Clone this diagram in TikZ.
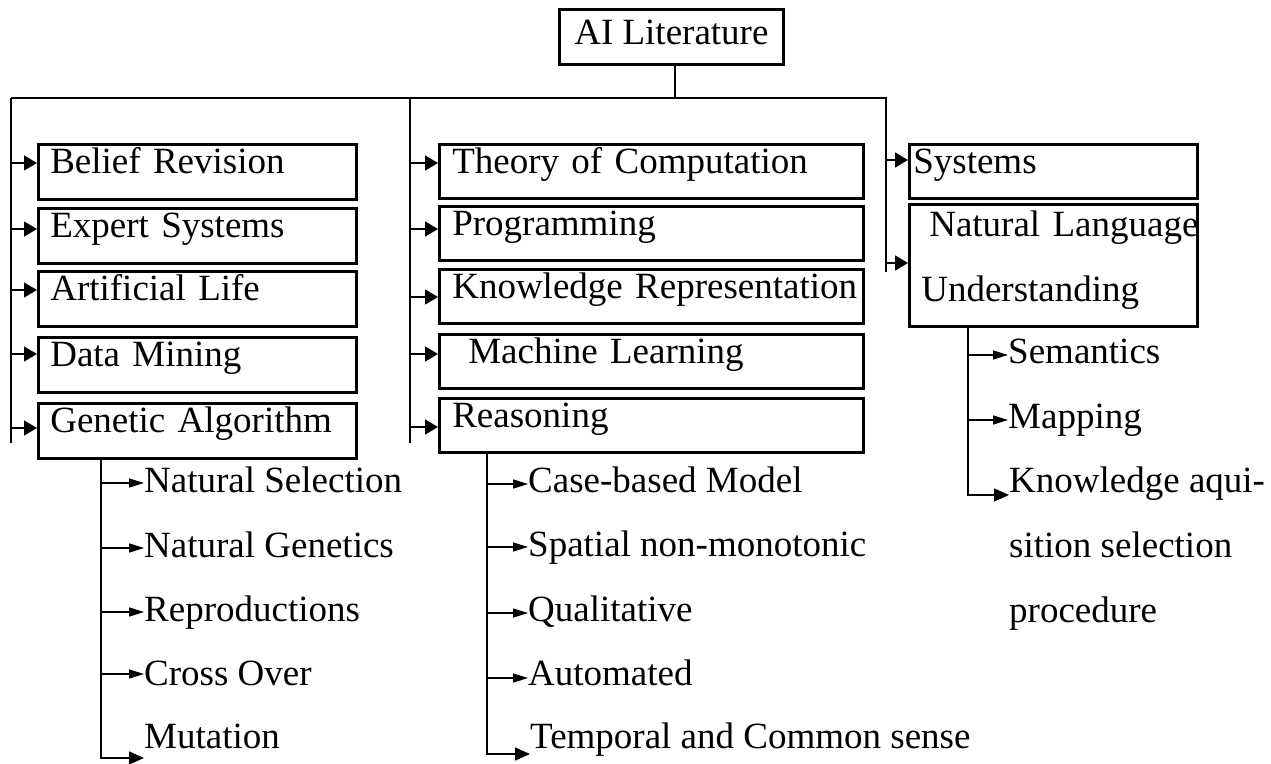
\documentclass[tikz,border=0pt]{standalone}
\usepackage{fontspec}
\setmainfont{Liberation Serif}
\usetikzlibrary{arrows.meta}
\tikzset{
  conn/.style={line width=1.4pt},
  arr/.style={conn,-{Triangle[length=13pt,width=15pt]}},
  subarr/.style={conn,-{Triangle[length=15pt,width=9pt]}},
  lastarr/.style={conn,-{Triangle[length=15pt,width=13pt]}},
  bx/.style={draw, line width=2.6pt, anchor=north west, inner xsep=12pt, inner ysep=0pt,
             text height=29pt, text depth=26pt, align=left},
  lbox/.style={bx, text width=294pt},
  mbox/.style={bx, inner xsep=13pt, text width=398pt, text depth=25pt},
  rbox/.style={bx, inner xsep=4pt, text width=280pt, text depth=25pt},
  item/.style={anchor=base west, inner sep=0pt},
}
\begin{document}
\begin{tikzpicture}[x=1pt,y=-1pt, every node/.style={font=\fontsize{37pt}{44pt}\selectfont}]
\useasboundingbox (0,0) rectangle (1271,763);

% root
\node[bx, anchor=north west, inner xsep=15pt, text height=35pt, text depth=20pt, align=center] (ai) at (558,8) {AI Literature};
\coordinate (hub) at (675,98);
\coordinate (busL) at (11,98);
\coordinate (busM) at (410,98);
\coordinate (busR) at (887,98);
\coordinate (busLend) at (11,443);
\coordinate (busMend) at (410,443);
\coordinate (busRend) at (886,272);

\draw[conn] (ai.south -| hub) -- (hub);
\draw[conn] (busL) -- (busR);
\draw[conn] (busL) -- (busLend);
\draw[conn] (busM) -- (busMend);
\draw[conn] ([xshift=-1pt]busR) -- (busRend);

% left column
\node[lbox] (belief) at (37,143) {Belief Revision};
\node[lbox] (expert) at (37,207) {Expert Systems};
\node[lbox] (artlife) at (37,270) {Artificial Life};
\node[lbox] (datam) at (37,336) {Data Mining};
\node[lbox] (genetic) at (37,402) {Genetic Algorithm};

\draw[arr] ([yshift=-20pt]belief.north west -| busL) -- ([yshift=-20pt]belief.north west);
\draw[arr] ([yshift=-22pt]expert.north west -| busL) -- ([yshift=-22pt]expert.north west);
\draw[arr] ([yshift=-20pt]artlife.north west -| busL) -- ([yshift=-20pt]artlife.north west);
\draw[arr] ([yshift=-18pt]datam.north west -| busL) -- ([yshift=-18pt]datam.north west);
\draw[arr] ([yshift=-26pt]genetic.north west -| busL) -- ([yshift=-26pt]genetic.north west);

% middle column
\node[mbox] (theory) at (438,143) {Theory of Computation};
\node[mbox] (prog) at (438,205) {Programming};
\node[mbox] (krep) at (438,268) {\mbox{Knowledge Representation}};
\node[mbox] (ml) at (438,333) {\hspace*{16pt}Machine Learning};
\node[mbox] (reason) at (438,397) {Reasoning};

\draw[arr] ([yshift=-20pt]theory.north west -| busM) -- ([yshift=-20pt]theory.north west);
\draw[arr] ([yshift=-24pt]prog.north west -| busM) -- ([yshift=-24pt]prog.north west);
\draw[arr] ([yshift=-29pt]krep.north west -| busM) -- ([yshift=-29pt]krep.north west);
\draw[arr] ([yshift=-21pt]ml.north west -| busM) -- ([yshift=-21pt]ml.north west);
\draw[arr] ([yshift=-30pt]reason.north west -| busM) -- ([yshift=-30pt]reason.north west);

% right column
\node[rbox] (systems) at (908,143) {Systems};
\node[rbox, inner xsep=12pt, text width=264pt, text height=32pt, text depth=90pt] (nlu) at (908,203)
  {\begin{tabular}[t]{@{}l@{}}\hspace*{8pt}Natural Language\\[21pt]Understanding\end{tabular}};

\draw[arr] ([yshift=-17pt]systems.north west -| busR) -- ([yshift=-17pt]systems.north west);
\draw[arr] ([yshift=-60pt]nlu.north west -| busR) -- ([yshift=-60pt]nlu.north west);

% genetic algorithm sub-items
\coordinate (gbus) at (101,457);
\node[item] (ns) at (144,492) {Natural Selection};
\node[item] (ng) at (144,557) {Natural Genetics};
\node[item] (rep) at (144,621) {Reproductions};
\node[item] (co) at (144,685) {Cross Over};
\node[item] (mut) at (144,748) {Mutation};
\draw[lastarr] (gbus) |- ([yshift=-10pt]mut.base west);
\draw[subarr] ([yshift=9pt]ns.base west -| gbus) -- ([yshift=9pt]ns.base west);
\draw[subarr] ([yshift=9pt]ng.base west -| gbus) -- ([yshift=9pt]ng.base west);
\draw[subarr] ([yshift=9pt]rep.base west -| gbus) -- ([yshift=9pt]rep.base west);
\draw[subarr] ([yshift=11pt]co.base west -| gbus) -- ([yshift=11pt]co.base west);

% reasoning sub-items
\coordinate (rbus) at (487,452);
\node[item] (cb) at (528,492) {Case-based Model};
\node[item] (sp) at (528,556) {Spatial non-monotonic};
\node[item] (qu) at (528,621) {Qualitative};
\node[item] (au) at (528,685) {Automated};
\node[item] (te) at (530,748) {Temporal and Common sense};
\draw[lastarr] (rbus) |- ([yshift=-6pt]te.base west);
\draw[subarr] ([yshift=8pt]cb.base west -| rbus) -- ([yshift=8pt]cb.base west);
\draw[subarr] ([yshift=9pt]sp.base west -| rbus) -- ([yshift=9pt]sp.base west);
\draw[subarr] ([yshift=8pt]qu.base west -| rbus) -- ([yshift=8pt]qu.base west);
\draw[subarr] ([yshift=7pt]au.base west -| rbus) -- ([yshift=7pt]au.base west);

% NLU sub-items
\coordinate (nbus) at (968,325);
\node[item] (sem) at (1008,363) {Semantics};
\node[item] (map) at (1008,428) {Mapping};
\node[item] (kaq) at (1009,492)
  {\begin{tabular}[t]{@{}l@{}}Knowledge aqui-\\[21pt]sition selection\\[21pt]procedure\end{tabular}};
\draw[lastarr] (nbus) |- ([yshift=-3pt]kaq.base west);
\draw[subarr] ([yshift=8pt]sem.base west -| nbus) -- ([yshift=8pt]sem.base west);
\draw[subarr] ([yshift=8pt]map.base west -| nbus) -- ([yshift=8pt]map.base west);
\end{tikzpicture}
\end{document}
